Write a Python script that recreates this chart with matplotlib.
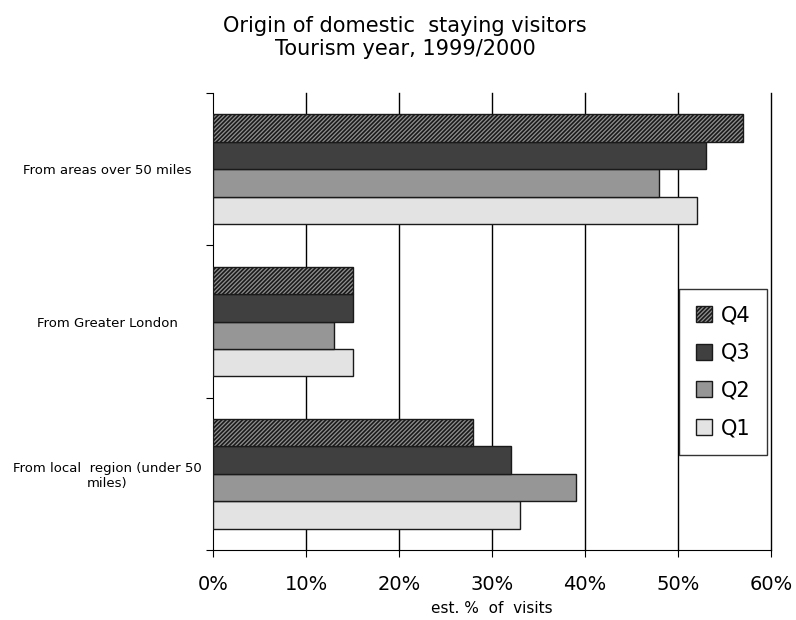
import numpy as np
import matplotlib.pyplot as plt

plt.rcParams['hatch.linewidth'] = 1.2

# Origin categories, bottom to top as drawn on the y axis
categories = ['From local  region (under 50\nmiles)', 'From Greater London', 'From areas over 50 miles']
quarters = ['Q1', 'Q2', 'Q3', 'Q4']
q1 = [33, 15, 52]
q2 = [39, 13, 48]
q3 = [32, 15, 53]
q4 = [28, 15, 57]
x_ticks = [0, 10, 20, 30, 40, 50, 60]

series = [q1, q2, q3, q4]
colors = ['#e3e3e3', '#969696', '#404040', '#909090']
hatches = [None, None, None, '////////']

fig = plt.figure(figsize=(7.96, 6.2), dpi=100)
ax = fig.add_axes([0.2676, 0.1129, 0.701, 0.7371])

y = np.arange(len(categories))
h = 0.18
for i, (vals, col, hat) in enumerate(zip(series, colors, hatches)):
    ax.barh(y + (i - 1.5) * h, vals, height=h, color=col, edgecolor='#1a1a1a',
            linewidth=1.0, hatch=hat, label=quarters[i], zorder=3)

ax.set_xlim(0, 60)
ax.set_ylim(-0.5, 2.5)
ax.set_xticks(x_ticks)
ax.set_xticklabels([f'{t}%' for t in x_ticks], fontsize=14)
ax.tick_params(axis='x', length=5, direction='out', pad=13)
ax.set_yticks([-0.5, 0.5, 1.5, 2.5])
ax.set_yticklabels([])
ax.set_yticks(y, minor=True)
ax.set_yticklabels(categories, minor=True, fontsize=9.5, ha='center', multialignment='center')
ax.tick_params(axis='y', which='minor', length=0, pad=76)
ax.tick_params(axis='y', which='major', length=5, direction='out')

# vertical gridlines, including the one at the right edge
for t in x_ticks[1:]:
    ax.axvline(t, color='black', linewidth=1.0, zorder=0, clip_on=False)
ax.spines['top'].set_visible(False)
ax.spines['right'].set_visible(False)

ax.set_xlabel('est. %  of  visits', fontsize=11, labelpad=5)

handles, labels = ax.get_legend_handles_labels()
leg = ax.legend(handles[::-1], labels[::-1], loc='center left', bbox_to_anchor=(0.835, 0.39),
                fontsize=15, frameon=True, fancybox=False, edgecolor='black',
                handlelength=0.8, handleheight=0.8, labelspacing=0.85, handletextpad=0.4,
                borderpad=0.8, borderaxespad=0)
leg.get_frame().set_linewidth(1.0)
leg.set_zorder(5)

fig.text(0.509, 0.958, 'Origin of domestic  staying visitors', ha='center', va='center', fontsize=15)
fig.text(0.509, 0.921, 'Tourism year, 1999/2000', ha='center', va='center', fontsize=15)

fig.savefig('out.png', dpi=100)
